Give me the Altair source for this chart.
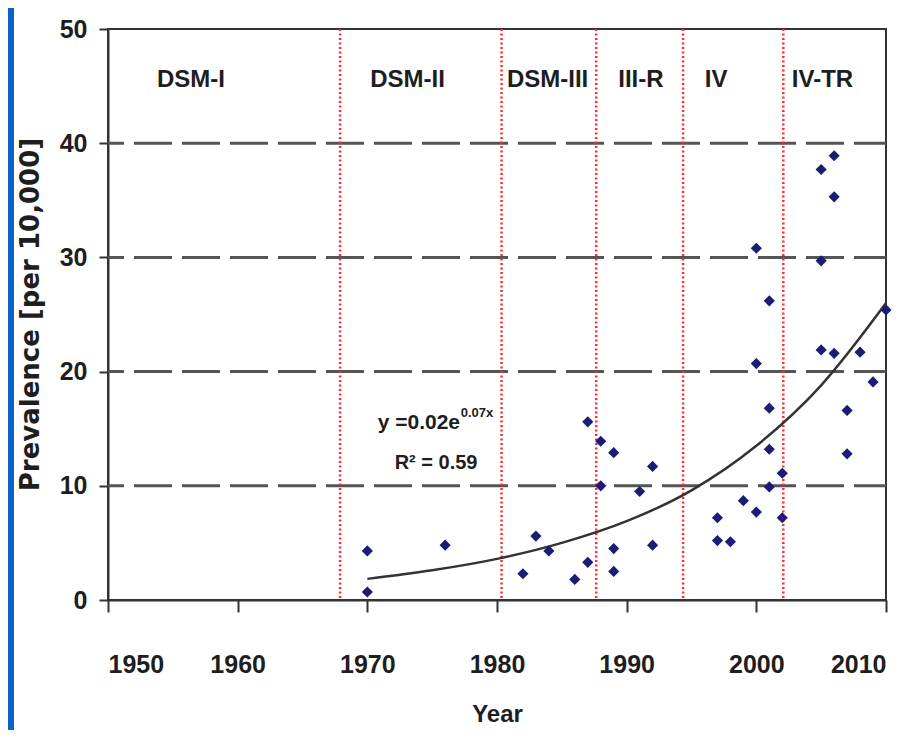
import altair as alt
import pandas as pd

# ---- data ----
years = [1970, 1970, 1976, 1982, 1983, 1984, 1986, 1987, 1987, 1988, 1988,
         1989, 1989, 1989, 1991, 1992, 1992, 1997, 1997, 1998, 1999,
         2000, 2000, 2000, 2001, 2001, 2001, 2001, 2002, 2002,
         2005, 2005, 2005, 2006, 2006, 2006, 2007, 2007, 2008, 2009, 2010]
prevalence = [4.3, 0.7, 4.8, 2.3, 5.6, 4.3, 1.8, 3.3, 15.6, 13.9, 10.0,
              12.9, 4.5, 2.5, 9.5, 11.7, 4.8, 7.2, 5.2, 5.1, 8.7,
              30.8, 20.7, 7.7, 26.2, 16.8, 13.2, 9.9, 11.1, 7.2,
              37.7, 29.7, 21.9, 38.9, 35.3, 21.6, 16.6, 12.8, 21.7, 19.1, 25.4]

trend_years = [1970, 1975, 1980, 1985, 1990, 1995, 2000, 2005, 2010]
trend_values = [1.85, 2.6, 3.6, 5.0, 6.9, 9.6, 13.5, 18.8, 26.0]

edition_names = ["DSM-I", "DSM-II", "DSM-III", "III-R", "IV", "IV-TR"]
edition_label_x = [1956.4, 1973.1, 1983.9, 1991.1, 1996.9, 2005.1]
edition_breaks = [1967.9, 1980.35, 1987.65, 1994.35, 2002.08]

grid_values = [10, 20, 30, 40]
x_ticks = [1950, 1960, 1970, 1980, 1990, 2000, 2010]
y_ticks = [0, 10, 20, 30, 40, 50]

FONT = "Liberation Sans, Arial, sans-serif"
TXT = "#1e1e1e"

pts = pd.DataFrame({"year": years, "prev": prevalence})
trend = pd.DataFrame({"year": trend_years, "prev": trend_values})
eds = pd.DataFrame({"year": edition_label_x, "prev": [45.5] * len(edition_names),
                    "label": edition_names})
brk = pd.DataFrame({"year": edition_breaks})
grd = pd.DataFrame({"prev": grid_values})

xs = alt.Scale(domain=[1950, 2010], nice=False, zero=False)
ys = alt.Scale(domain=[0, 50], nice=False, zero=True)

x_axis = alt.Axis(values=x_ticks, format="d", title="Year", grid=False,
                  labelFont=FONT, labelFontSize=25, labelFontWeight="bold",
                  labelColor=TXT, labelBaseline="alphabetic", labelPadding=60,
                  tickSize=12, tickWidth=2, tickColor="#333",
                  domainColor="#333", domainWidth=2,
                  titleFont=FONT, titleFontSize=24, titleFontWeight="bold",
                  titleColor=TXT, titleBaseline="alphabetic", titleY=121)
y_axis = alt.Axis(values=y_ticks, title="Prevalence [per 10,000]", grid=False,
                  labelFont=FONT, labelFontSize=25, labelFontWeight="bold",
                  labelColor=TXT, labelPadding=12,
                  tickSize=9, tickWidth=2, tickColor="#333",
                  domainColor="#333", domainWidth=2,
                  titleFont="DejaVu Sans", titleFontSize=26, titleFontWeight="bold",
                  titleColor=TXT, titleBaseline="middle", titleAngle=-90,
                  titleX=-78, titleY=285)

base_x = alt.X("year:Q", scale=xs, axis=x_axis)
base_y = alt.Y("prev:Q", scale=ys, axis=y_axis)

grid = alt.Chart(grd).mark_rule(color="#555", strokeWidth=3,
                                strokeDash=[38, 10], strokeDashOffset=6).encode(
    y=alt.Y("prev:Q", scale=ys))

breaks = alt.Chart(brk).mark_rule(color="#ff2d2d", strokeWidth=2.5,
                                  strokeDash=[2, 2.5]).encode(
    x=alt.X("year:Q", scale=xs))

line = alt.Chart(trend).mark_line(color="#333", strokeWidth=2.5,
                                  interpolate="monotone").encode(
    x=alt.X("year:Q", scale=xs), y=alt.Y("prev:Q", scale=ys))

dots = alt.Chart(pts).mark_point(shape="diamond", filled=True, opacity=1,
                                 color="#1c1c74", size=125).encode(
    x=base_x, y=base_y)

ed_text = alt.Chart(eds).mark_text(font=FONT, fontSize=24, fontWeight="bold",
                                   color=TXT, baseline="middle", align="center").encode(
    x=alt.X("year:Q", scale=xs), y=alt.Y("prev:Q", scale=ys), text="label:N")

eq_df = pd.DataFrame({"year": [1970.8], "prev": [15.5], "label": ["y =0.02e"]})
sup_df = pd.DataFrame({"year": [1977.2], "prev": [16.4], "label": ["0.07x"]})
r2_df = pd.DataFrame({"year": [1975.3], "prev": [12.0], "label": ["R² = 0.59"]})

eq = alt.Chart(eq_df).mark_text(font=FONT, fontSize=21, fontWeight="bold",
                                color=TXT, baseline="middle", align="left").encode(
    x=alt.X("year:Q", scale=xs), y=alt.Y("prev:Q", scale=ys), text="label:N")
sup = alt.Chart(sup_df).mark_text(font=FONT, fontSize=13, fontWeight="bold",
                                  color=TXT, baseline="middle", align="left").encode(
    x=alt.X("year:Q", scale=xs), y=alt.Y("prev:Q", scale=ys), text="label:N")
r2 = alt.Chart(r2_df).mark_text(font=FONT, fontSize=20, fontWeight="bold",
                                color=TXT, baseline="middle", align="center").encode(
    x=alt.X("year:Q", scale=xs), y=alt.Y("prev:Q", scale=ys), text="label:N")

stripe = alt.Chart(pd.DataFrame({"k": [0]})).mark_rect(color="#0b63c9").encode(
    x=alt.value(-100), x2=alt.value(-94), y=alt.value(-21), y2=alt.value(701))

chart = alt.layer(stripe, grid, breaks, line, dots, ed_text, eq, sup, r2).properties(
    width=778, height=571,
    padding={"left": 100, "top": 21, "right": 23, "bottom": 130},
    autosize=alt.AutoSizeParams(type="none"),
    background="white",
).configure_view(stroke="#333", strokeWidth=2)

chart.save("out.html", embed_options={"renderer": "svg", "actions": False})
